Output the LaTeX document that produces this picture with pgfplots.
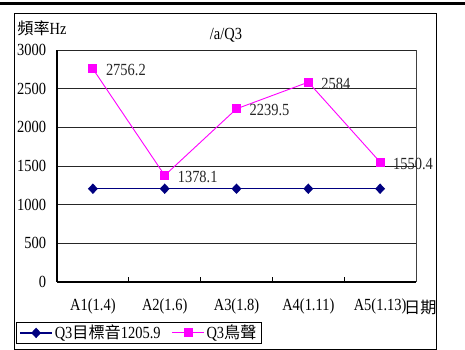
\documentclass[border=0pt]{standalone}
\usepackage{fontspec}
\setmainfont{Liberation Serif}[FakeStretch=0.85]
\newfontfamily\cjk{Noto Sans CJK TC}[Scale=0.95]
\usepackage{pgfplots}
\pgfplotsset{compat=1.18}

\definecolor{targetnavy}{RGB}{0,0,128}
\definecolor{birdpink}{RGB}{255,0,255}

\begin{document}
\fontsize{17pt}{20pt}\selectfont
\begin{tikzpicture}
\useasboundingbox (0pt,0pt) rectangle (465pt,350pt);
% heavy rule at the top and the outer frame
\draw[line width=3pt] (0pt,346pt) -- (465pt,346pt);
\draw[line width=0.9pt] (14pt,1pt) rectangle (436pt,337pt);

\begin{axis}[
  at={(57pt,68pt)}, anchor=south west,
  scale only axis, width=359pt, height=232pt,
  clip=false,
  xmin=0.5, xmax=5.5, ymin=0, ymax=3000,
  axis lines*=left,
  axis line style={-, line width=1.2pt, black},
  ytick={0,500,...,3000},
  xtick={1,...,5},
  xticklabels={A1(1.4),A2(1.6),A3(1.8),A4(1.11),A5(1.13)},
  minor xtick={1.5,2.5,3.5,4.5},
  major tick length=0pt, minor tick length=5pt,
  tick align=inside,
  tick style={black, line width=0.8pt},
  ymajorgrids,
  major grid style={black!85, line width=0.9pt},
  /pgf/number format/assume math mode=true,
  /pgf/number format/1000 sep={},
  yticklabel style={xshift=-5pt},
  xticklabel style={yshift=-11pt},
  legend columns=2,
  legend style={at={(-0.114,-0.267)}, anchor=south west,
    draw=black, line width=0.8pt, fill=white,
    inner xsep=3pt, inner ysep=0.5pt,
    /tikz/every even column/.append style={column sep=9pt}},
  legend image code/.code={
    \draw[mark repeat=2, mark phase=2] plot coordinates {(0pt,0pt) (16pt,0pt) (32pt,0pt)};
  },
]
\addplot[targetnavy, line width=1.3pt, mark=diamond*,
  mark size=4.3pt, mark options={xscale=1.25, fill=targetnavy}]
  coordinates {(1,1205.9) (2,1205.9) (3,1205.9) (4,1205.9) (5,1205.9)};
\addlegendentry{Q3{\cjk 目標音}1205.9}

\addplot[birdpink, line width=0.9pt, mark=square*, mark size=4pt,
  mark options={fill=birdpink},
  point meta=explicit symbolic,
  nodes near coords,
  nodes near coords style={anchor=west, xshift=7pt, yshift=-1.5pt,
    text=black!85, font=\fontsize{17pt}{20pt}\selectfont}]
  coordinates {(1,2756.2) [2756.2] (2,1378.1) [1378.1] (3,2239.5) [2239.5]
               (4,2584) [2584] (5,1550.4) [1550.4]};
\addlegendentry{Q3{\cjk 鳥聲}}

% thin border on the right of the plot area
\draw[black!75, line width=0.8pt] (rel axis cs:1,0) -- (rel axis cs:1,1);
\end{axis}

\node at (226pt,315pt) {/a/Q3};
\node at (42pt,322pt) {{\cjk 頻率}Hz};
\node[anchor=west, inner sep=0pt] at (404pt,43pt) {\cjk 日期};
\end{tikzpicture}
\end{document}
